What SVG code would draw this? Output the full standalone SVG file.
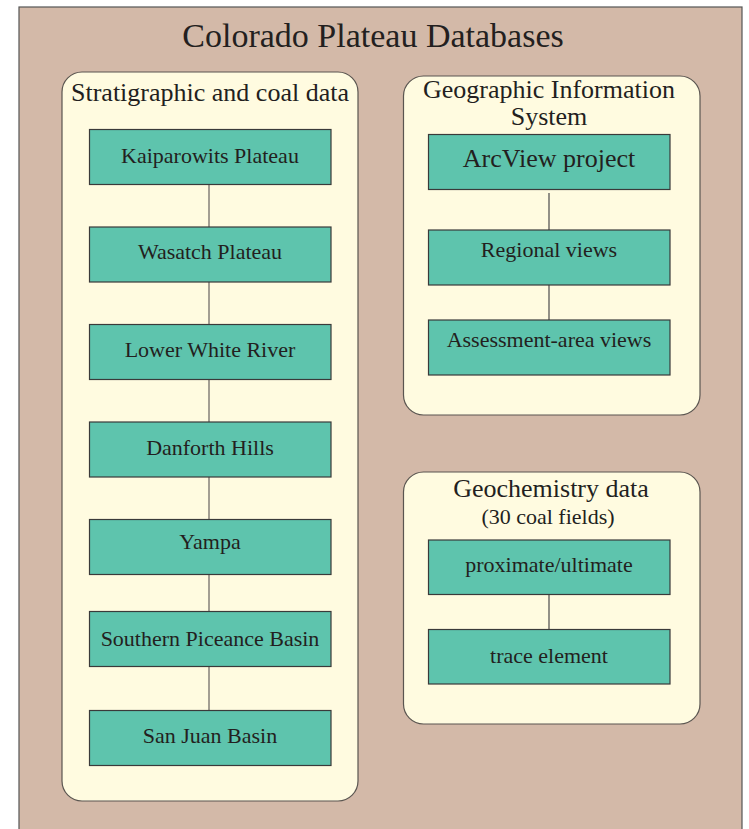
<svg xmlns="http://www.w3.org/2000/svg" width="749" height="829" viewBox="0 0 749 829">
<style>
text{font-family:"Liberation Serif","Times New Roman",serif;fill:#231F20;text-anchor:middle}
.t{font-size:34px}
.h{font-size:26px}
.b{font-size:22px}
.panel{fill:#FFFBE0;stroke:#5a5550;stroke-width:1.2}
.box{fill:#5EC4AD;stroke:#3a3a3a;stroke-width:1.2}
.cl{stroke:#857f78;stroke-width:1.5}
.cr{stroke:#4a4a4a;stroke-width:1.2}
</style>
<rect x="0" y="0" width="749" height="829" fill="#ffffff"/>
<rect x="19" y="7" width="723" height="830" fill="#D3B9A8" stroke="#555" stroke-width="1.2"/>
<text class="t" x="373" y="47">Colorado Plateau Databases</text>

<g id="panel-strat">
<rect class="panel" x="62" y="72" width="296" height="729" rx="20"/>
<text class="h" x="210" y="101">Stratigraphic and coal data</text>
</g>
<g id="panel-gis">
<rect class="panel" x="403.5" y="76" width="296.5" height="339" rx="20"/>
<text class="h" x="549" y="98">Geographic Information</text>
<text class="h" x="549" y="124.5">System</text>
</g>
<g id="panel-geochem">
<rect class="panel" x="403.5" y="472" width="296.5" height="252" rx="20"/>
<text class="h" x="551" y="497">Geochemistry data</text>
<text class="b" x="548" y="524">(30 coal fields)</text>
</g>

<g id="connectors">
<line class="cl" x1="209" y1="184" x2="209" y2="227"/>
<line class="cl" x1="209" y1="282" x2="209" y2="324"/>
<line class="cl" x1="209" y1="379" x2="209" y2="422"/>
<line class="cl" x1="209" y1="477" x2="209" y2="519"/>
<line class="cl" x1="209" y1="574" x2="209" y2="611"/>
<line class="cl" x1="209" y1="666" x2="209" y2="710"/>
<line class="cr" x1="549" y1="193" x2="549" y2="230"/>
<line class="cr" x1="549" y1="285" x2="549" y2="320"/>
<line class="cr" x1="549" y1="594" x2="549" y2="629"/>
</g>

<g id="kaiparowits"><rect class="box" x="89.5" y="129.5" width="241.5" height="55"/><text class="b" x="210" y="163">Kaiparowits Plateau</text></g>
<g id="wasatch"><rect class="box" x="89.5" y="227" width="241.5" height="55"/><text class="b" x="210" y="259">Wasatch Plateau</text></g>
<g id="lowerwhite"><rect class="box" x="89.5" y="324.5" width="241.5" height="55"/><text class="b" x="210" y="357">Lower White River</text></g>
<g id="danforth"><rect class="box" x="89.5" y="422" width="241.5" height="55"/><text class="b" x="210" y="455">Danforth Hills</text></g>
<g id="yampa"><rect class="box" x="89.5" y="519.5" width="241.5" height="55"/><text class="b" x="210" y="549">Yampa</text></g>
<g id="piceance"><rect class="box" x="89.5" y="611.5" width="241.5" height="55"/><text class="b" x="210" y="646">Southern Piceance Basin</text></g>
<g id="sanjuan"><rect class="box" x="89.5" y="710.5" width="241.5" height="55"/><text class="b" x="210" y="743">San Juan Basin</text></g>

<g id="arcview"><rect class="box" x="428.5" y="134.5" width="241.5" height="55"/><text class="h" x="549" y="167">ArcView project</text></g>
<g id="regional"><rect class="box" x="428.5" y="230" width="241.5" height="55"/><text class="b" x="549" y="257">Regional views</text></g>
<g id="assessment"><rect class="box" x="428.5" y="320" width="241.5" height="55"/><text class="b" x="549" y="347">Assessment-area views</text></g>

<g id="proximate"><rect class="box" x="428.5" y="540" width="241.5" height="54.5"/><text class="b" x="549" y="572">proximate/ultimate</text></g>
<g id="trace"><rect class="box" x="428.5" y="629.5" width="241.5" height="54.5"/><text class="b" x="549" y="663">trace element</text></g>
</svg>
